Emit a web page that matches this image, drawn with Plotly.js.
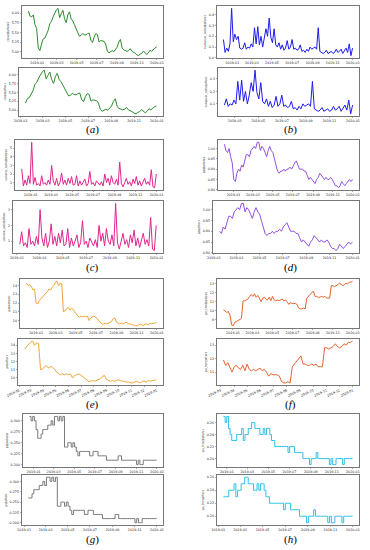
<!DOCTYPE html>
<html><head><meta charset="utf-8">
<script src="https://cdn.plot.ly/plotly-3.0.1.min.js"></script>
<style>html,body{margin:0;padding:0;background:#fff}#chart{width:370px;height:550px}</style>
</head><body><div id="chart"></div>
<script>
// ---- data ----
const endDate = '2019-12-31';

const closeStart = '2018-12-05', closeAfterStart = '2019-01-12';
const closeValues = [6.05,5.92,5.90,5.95,5.70,5.60,5.10,5.03,5.20,5.33,5.35,5.45,5.55,5.72,5.78,5.90,6.00,6.08,6.12,5.88,5.98,6.07,5.85,5.75,5.95,6.03,5.85,5.80,5.70,5.60,5.50,5.40,5.42,5.47,5.44,5.43,5.47,5.48,5.30,5.24,5.38,5.47,5.44,5.25,5.29,5.28,5.27,5.20,5.02,4.97,5.01,5.03,5.00,5.05,5.12,5.25,5.32,5.10,5.05,5.03,5.01,5.03,5.08,5.01,4.99,4.96,4.92,4.90,4.94,4.96,5.02,4.97,4.93,4.97,5.04,5.01,5.06,5.10,5.12];

const turnoverStart = '2018-12-05', turnoverAfterStart = '2019-02-01';
const turnoverValues = [0.17,0.05,0.09,0.06,0.13,0.46,0.15,0.22,0.17,0.20,0.09,0.08,0.09,0.14,0.08,0.10,0.09,0.13,0.10,0.28,0.13,0.29,0.12,0.20,0.10,0.17,0.27,0.20,0.37,0.19,0.14,0.27,0.12,0.10,0.14,0.08,0.12,0.07,0.09,0.16,0.08,0.10,0.17,0.08,0.09,0.07,0.08,0.12,0.06,0.07,0.05,0.08,0.06,0.10,0.08,0.09,0.10,0.08,0.28,0.06,0.05,0.04,0.05,0.07,0.04,0.05,0.06,0.04,0.05,0.08,0.05,0.06,0.08,0.04,0.07,0.09,0.05,0.13,0.02,0.09];

const volumeStart = '2018-12-06', volumeAfterStart = '2019-01-06';
const volumeValues = [2.6,0.6,1.3,0.7,1.8,0.9,5.7,0.8,1.6,0.7,0.9,0.6,1.8,0.8,1.0,0.7,1.3,0.8,3.0,1.2,0.7,1.5,0.6,1.0,2.1,0.8,1.3,0.7,1.5,0.9,1.7,0.7,0.8,1.8,0.6,1.2,0.7,1.0,1.4,0.6,0.9,2.3,0.8,1.0,0.6,1.2,0.9,0.7,1.1,0.6,2.0,1.0,1.5,0.7,1.8,1.0,0.8,1.4,0.7,3.4,0.9,0.5,1.0,1.5,0.8,1.1,0.6,1.4,0.9,1.7,0.7,1.2,0.6,1.0,1.5,0.8,1.1,0.7,2.5,0.5,0.4,2.0];

const pbStart = '2018-12-04', pbAfterStart = '2019-01-12';
const pbValues = [1.02,0.99,0.98,1.00,0.96,0.93,0.85,0.84,0.88,0.90,0.89,0.92,0.91,0.94,0.97,0.97,0.96,0.99,1.00,1.01,1.00,1.03,1.03,0.99,1.01,1.00,0.98,0.96,0.99,1.01,0.99,0.98,0.95,0.92,0.89,0.88,0.89,0.89,0.90,0.89,0.90,0.90,0.91,0.90,0.92,0.93,0.94,0.92,0.90,0.90,0.90,0.89,0.89,0.87,0.85,0.86,0.85,0.84,0.83,0.85,0.86,0.88,0.87,0.86,0.85,0.86,0.85,0.85,0.86,0.85,0.83,0.82,0.82,0.81,0.82,0.84,0.83,0.82,0.83,0.84,0.85,0.84,0.85];

const peStart = '2018-12-03', peAfterStart = '2019-02-10';
const peValues = [14.3,14.0,14.1,13.9,13.5,13.6,12.0,11.9,12.3,12.5,12.7,12.8,13.0,13.3,13.6,13.5,13.8,14.0,14.4,14.5,14.0,14.3,14.2,11.0,11.1,11.4,11.5,11.2,11.4,11.3,11.0,10.7,10.5,10.4,10.5,10.4,10.5,10.4,10.5,10.0,10.3,10.4,10.5,10.4,10.2,10.0,9.8,9.6,9.6,9.7,9.6,9.7,9.8,9.9,10.2,10.3,9.8,9.7,9.6,9.7,9.6,9.7,9.8,9.7,9.6,9.6,9.5,9.5,9.4,9.4,9.5,9.6,9.5,9.4,9.6,9.6,9.5,9.7,9.6,9.7,9.7,9.8];

const peTtmStart = '2018-12-03', peTtmAfterStart = '2019-03-05';
const peTtmValues = [10.1,9.9,9.8,9.9,9.5,8.4,8.3,8.7,8.8,8.9,9.0,9.1,11.1,11.1,11.2,11.3,11.6,11.8,11.6,11.9,11.5,11.7,11.4,11.0,11.4,11.5,11.3,11.2,11.5,11.1,11.6,11.2,11.1,11.2,11.1,11.2,11.3,11.1,11.2,11.0,10.7,10.9,10.8,10.8,10.8,10.7,10.3,10.2,10.2,10.3,10.2,11.4,11.6,11.8,12.0,12.2,11.6,11.6,11.5,11.5,11.6,11.5,11.6,11.4,11.4,11.4,12.8,12.8,12.7,12.8,12.9,13.1,12.9,12.8,12.9,13.1,13.0,13.2,13.2,13.3];

const psStart = '2018-12-19', psAfterStart = '2019-01-10';
const psValues = [0.31,0.30,0.31,0.30,0.28,0.26,0.26,0.27,0.28,0.28,0.28,0.29,0.29,0.30,0.29,0.31,0.31,0.30,0.31,0.30,0.31,0.24,0.24,0.25,0.25,0.24,0.25,0.24,0.23,0.22,0.23,0.23,0.23,0.23,0.23,0.23,0.22,0.22,0.23,0.23,0.23,0.22,0.22,0.22,0.22,0.22,0.21,0.21,0.21,0.21,0.21,0.21,0.21,0.22,0.22,0.21,0.21,0.21,0.21,0.21,0.21,0.21,0.21,0.21,0.20,0.21,0.20,0.20,0.21,0.21,0.21,0.21,0.21,0.21,0.21,0.21,0.21];

const psTtmStart = '2018-12-22', psTtmAfterStart = '2019-01-12';
const psTtmValues = [0.27,0.26,0.27,0.25,0.24,0.23,0.23,0.23,0.24,0.24,0.24,0.25,0.23,0.24,0.24,0.25,0.25,0.26,0.26,0.25,0.25,0.25,0.24,0.24,0.25,0.24,0.25,0.25,0.24,0.23,0.23,0.22,0.22,0.22,0.22,0.22,0.22,0.22,0.22,0.21,0.22,0.22,0.22,0.21,0.21,0.21,0.21,0.21,0.20,0.20,0.20,0.20,0.19,0.20,0.20,0.20,0.21,0.20,0.20,0.20,0.20,0.20,0.20,0.20,0.19,0.20,0.19,0.19,0.20,0.20,0.20,0.20,0.19,0.20,0.20,0.20,0.20,0.20,0.20];

const panelLetters = ['a','b','c','d','e','f','g','h'];
const seriesNames = ['close','turnover_ratio','volume_ratio','pb','pe','pe_ttm','ps','ps_ttm'];

// ---- panel configuration ----
const panels = [
  {values:closeValues, start:closeStart, after:closeAfterStart, color:'#2b8c2b', dtick:0.25, fmt:'.2f', shape:'linear', rot:false},
  {values:turnoverValues, start:turnoverStart, after:turnoverAfterStart, color:'#1c1cf0', dtick:0.1, fmt:'.1f', shape:'linear', rot:false},
  {values:volumeValues, start:volumeStart, after:volumeAfterStart, color:'#e0268e', dtick:1, fmt:'d', shape:'linear', rot:false},
  {values:pbValues, start:pbStart, after:pbAfterStart, color:'#9152df', dtick:0.05, fmt:'.2f', shape:'linear', rot:false},
  {values:peValues, start:peStart, after:peAfterStart, color:'#f2a43a', dtick:1, fmt:'d', shape:'linear', rot:true},
  {values:peTtmValues, start:peTtmStart, after:peTtmAfterStart, color:'#e8632e', dtick:1, fmt:'d', shape:'linear', rot:true},
  {values:psValues, start:psStart, after:psAfterStart, color:'#7a7a7a', dtick:0.025, fmt:'.3f', shape:'hv', rot:false},
  {values:psTtmValues, start:psTtmStart, after:psTtmAfterStart, color:'#2cc2ea', dtick:0.02, fmt:'.2f', shape:'hv', rot:false}
];

// geometry in pixels (370 x 550)
const W = 370, H = 550;
const rowPx = [[6,58,68,116,130],[140,190,201,253,267],[279,328,339,385,404],[414,467,475,525,539]];
const leftPx = [[22,19],[217,218],[15,13],[218,213],[20,18],[217,217],[23,22],[217,217]];
const rightPx = [163,359];
const labelX = [92,290];

function toStr(ms){ return new Date(ms).toISOString().slice(0,19).replace('T',' '); }
function makeDates(start, end, n){
  const t0 = Date.parse(start+'T00:00:00Z'), t1 = Date.parse(end+'T00:00:00Z');
  const out = [];
  for (let i=0;i<n;i++) out.push(t0 + (t1-t0)*i/(n-1));
  return out;
}
function padRange(a, b){ const m=(b-a)*0.05; return [a-m, b+m]; }

const axFont = {family:'DejaVu Sans', size:3.3, color:'#222'};
const axBase = {showline:true, mirror:true, linecolor:'#555', linewidth:0.8, ticks:'outside', ticklen:1.5,
  tickwidth:0.5, tickcolor:'#555', showgrid:false, zeroline:false, tickfont:axFont};

const data = [], layout = {width:W, height:H, margin:{l:0,r:0,t:0,b:0}, paper_bgcolor:'#fff', plot_bgcolor:'#fff',
  showlegend:false, annotations:[]};

panels.forEach((p, pi) => {
  const col = pi % 2, row = Math.floor(pi/2);
  const rp = rowPx[row];
  const times = makeDates(p.start, endDate, p.values.length);
  const afterT = Date.parse(p.after+'T00:00:00Z');
  const sets = [
    {t:times, v:p.values, suffix:'(before)', y0:rp[0], y1:rp[1], left:leftPx[pi][0], rot:false},
    {t:times.filter(t=>t>=afterT), v:p.values.filter((_,i)=>times[i]>=afterT), suffix:'(after)', y0:rp[2], y1:rp[3], left:leftPx[pi][1], rot:p.rot}
  ];
  sets.forEach((s, si) => {
    const n = pi*2 + si + 1;
    const xk = n===1 ? 'x' : 'x'+n, yk = n===1 ? 'y' : 'y'+n;
    const xa = n===1 ? 'xaxis' : 'xaxis'+n, ya = n===1 ? 'yaxis' : 'yaxis'+n;
    data.push({type:'scatter', mode:'lines', x:s.t.map(toStr), y:s.v, xaxis:xk, yaxis:yk,
      line:{color:p.color, width:1, shape:p.shape}, hoverinfo:'skip'});
    const xr = padRange(s.t[0], s.t[s.t.length-1]);
    const yr = padRange(Math.min(...s.v), Math.max(...s.v));
    layout[xa] = Object.assign({}, axBase, {type:'date', domain:[s.left/W, rightPx[col]/W], anchor:yk,
      range:[toStr(xr[0]), toStr(xr[1])], tickformat:'%Y-%m', dtick: s.rot ? 'M1' : 'M2', tick0:'2019-01-01',
      tickangle: s.rot ? -25 : 0});
    layout[ya] = Object.assign({}, axBase, {domain:[1 - s.y1/H, 1 - s.y0/H], anchor:xk, range:yr,
      dtick:p.dtick, tick0:0, tickformat:p.fmt, tickangle:0,
      title:{text: seriesNames[pi] + s.suffix, font:{family:'DejaVu Sans', size:3.0, color:'#222'}, standoff:2}});
  });
  layout.annotations.push({xref:'paper', yref:'paper', x:labelX[col]/W, y:1 - rp[4]/H, xanchor:'center', yanchor:'middle',
    showarrow:false, borderpad:0, text:'(<i>' + panelLetters[pi] + '</i>)', font:{family:'Liberation Serif', size:11, color:'#000'}});
});

Plotly.newPlot('chart', data, layout, {staticPlot:true, displayModeBar:false});
</script>
</body></html>
